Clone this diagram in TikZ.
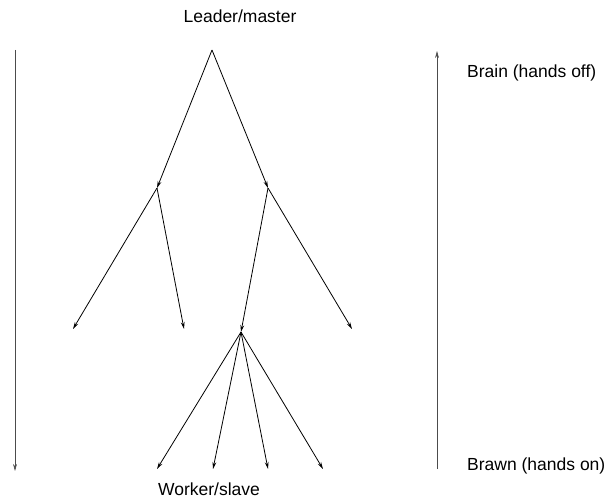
\documentclass[tikz,border=0pt]{standalone}
\usepackage{fontspec}
\setmainfont{Liberation Sans}
\usetikzlibrary{arrows.meta}

\begin{document}
\begin{tikzpicture}[>={Stealth[length=7pt,width=3.8pt]}, x=1pt, y=-1pt,
        every node/.style={font=\fontsize{17.5}{20}\selectfont, inner sep=0pt},
        branch/.style={->, line width=0.8pt},
        axisline/.style={->, line width=0.6pt, black!70}]
        \useasboundingbox (0,0) rectangle (607,500);

        % the points of the tree
        \coordinate (top) at (212,50);
        \coordinate (left) at (157,188);
        \coordinate (right) at (268,188);
        \coordinate (leftleft) at (73,329);
        \coordinate (leftright) at (184,329);
        \coordinate (mid) at (241,332);
        \coordinate (rightright) at (352,329);
        \coordinate (w1) at (157,469);
        \coordinate (w2) at (213,469);
        \coordinate (w3) at (268,469);
        \coordinate (w4) at (323,469);

        % The label above the tree -> Leader/master
        \node[anchor=base] (leader) at (240,23) {Leader/master};
        % The label below the tree -> Worker/slave
        \node[anchor=base] (worker) at (209,495.5) {Worker/slave};

        % first level
        \draw[branch] (top) -- (left);
        \draw[branch] (top) -- (right);
        % second level
        \draw[branch] (left) -- (leftleft);
        \draw[branch] (left) -- (leftright);
        \draw[branch] (right) -- (mid);
        \draw[branch] (right) -- (rightright);
        % the workers at the bottom
        \foreach \w in {w1,w2,w3,w4}
        \draw[branch] (mid) -- (\w);

        % Arrow on the left, going down
        \coordinate (downtop) at (15,50);
        \coordinate (downbot) at (15,471);
        \draw[axisline] (downtop) -- (downbot);

        % Arrow on the right, going up, with its two labels
        \coordinate (upbot) at (437,469);
        \coordinate (uptop) at (437,51);
        \draw[axisline] (upbot) -- (uptop);
        \node[anchor=west] (brain) at (467,73) {Brain (hands off)};
        \node[anchor=west] (brawn) at (467,466) {Brawn (hands on)};
    \end{tikzpicture}
\end{document}
